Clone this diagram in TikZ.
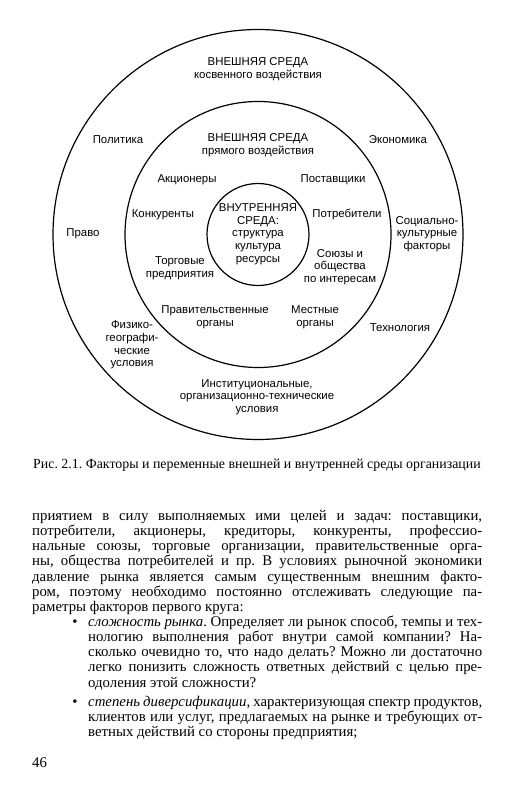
\documentclass[tikz,border=0pt]{standalone}
\usepackage{fontspec}
\setmainfont{Liberation Serif}
\newfontfamily\diagfont{Liberation Sans}
\usetikzlibrary{positioning}
\frenchspacing
\tikzset{
  env-ring/.style={draw,circle,line width=1.2pt,inner sep=0pt},
  env-label/.style={font=\diagfont\fontsize{11.4}{12.7}\selectfont,
    align=center,inner sep=0pt},
  caption-text/.style={font=\fontsize{13.9}{15}\selectfont,inner sep=0pt},
  page-text/.style={font=\fontsize{14.8}{15.2}\selectfont,inner sep=0pt,
    anchor=north west,align=left},
}
% one justified line of the page
\newcommand\jline[1]{\strut\makebox[#1][s]}
\newcommand\fullline[1]{\jline{450pt}{#1}\\}
\newcommand\itemline[1]{\jline{394pt}{#1}\\}

\begin{document}
\begin{tikzpicture}[x=1pt,y=-1pt]
  \useasboundingbox[fill=white] (0,0) rectangle (514,800);
  % rings
  \node[env-ring,minimum size=410pt] (outer) at (258,234.5) {};
  \node[env-ring,minimum size=266pt] (middle) at (258,234.5) {};
  \node[env-ring,minimum size=102pt] (inner) at (258,234.5) {};
  % outer ring
  \node[env-label] (indirect) at (258,69) {ВНЕШНЯЯ СРЕДА\\косвенного воздействия};
  \node[env-label] (politics) at (118,140) {Политика};
  \node[env-label] (economy) at (398,140) {Экономика};
  \node[env-label] (law) at (83,234) {Право};
  \node[env-label] (social) at (427,234) {Социально-\\культурные\\факторы};
  \node[env-label] (geo) at (132,345) {Физико-\\географи-\\ческие\\условия};
  \node[env-label] (tech) at (400,328) {Технология};
  \node[env-label] (inst) at (257,397) {Институциональные,\\организационно-технические\\условия};
  % middle ring
  \node[env-label] (direct) at (258,145) {ВНЕШНЯЯ СРЕДА\\прямого воздействия};
  \node[env-label] (holders) at (187,180) {Акционеры};
  \node[env-label] (suppliers) at (333,180) {Поставщики};
  \node[env-label] (rivals) at (163,215) {Конкуренты};
  \node[env-label] (buyers) at (347,215) {Потребители};
  \node[env-label] (trade) at (180,268) {Торговые\\предприятия};
  \node[env-label] (unions) at (340,267) {Союзы и\\общества\\по интересам};
  \node[env-label] (gov) at (215,317) {Правительственные\\органы};
  \node[env-label] (local) at (315,317) {Местные\\органы};
  % inner ring
  \node[env-label] (internal) at (258,234) {ВНУТРЕННЯЯ\\СРЕДА:\\структура\\культура\\ресурсы};
  % caption
  \node[caption-text,anchor=west] (caption) at (33,465)
    {Рис. 2.1. Факторы и переменные внешней и внутренней среды организации};
  % page text
  \node[page-text] (para) at (32,509.5) {%
    \fullline{приятием в силу выполняемых ими целей и задач: поставщики,}
    \fullline{потребители, акционеры, кредиторы, конкуренты, профессио-}
    \fullline{нальные союзы, торговые организации, правительственные орга-}
    \fullline{ны, общества потребителей и пр. В условиях рыночной экономики}
    \fullline{давление рынка является самым существенным внешним факто-}
    \fullline{ром, поэтому необходимо постоянно отслеживать следующие па-}
    \strut раметры факторов первого круга:};
  \node[page-text] (item-a) at (88,615.5) {%
    \itemline{\textit{сложность рынка}. Определяет ли рынок способ, темпы и тех-}
    \itemline{нологию выполнения работ внутри самой компании? На-}
    \itemline{сколько очевидно то, что надо делать? Можно ли достаточно}
    \itemline{легко понизить сложность ответных действий с целью пре-}
    \strut одоления этой сложности?};
  \node[page-text] (item-b) at (88,695.5) {%
    \itemline{\textit{степень диверсификации}, характеризующая спектр продуктов,}
    \itemline{клиентов или услуг, предлагаемых на рынке и требующих от-}
    \strut ветных действий со стороны предприятия;};
  \node[page-text,anchor=north] (dot-a) at (75,615.5) {\strut•};
  \node[page-text,anchor=north] (dot-b) at (75,695.5) {\strut•};
  \node[page-text,anchor=west] (folio) at (32,763) {46};
\end{tikzpicture}
\end{document}
